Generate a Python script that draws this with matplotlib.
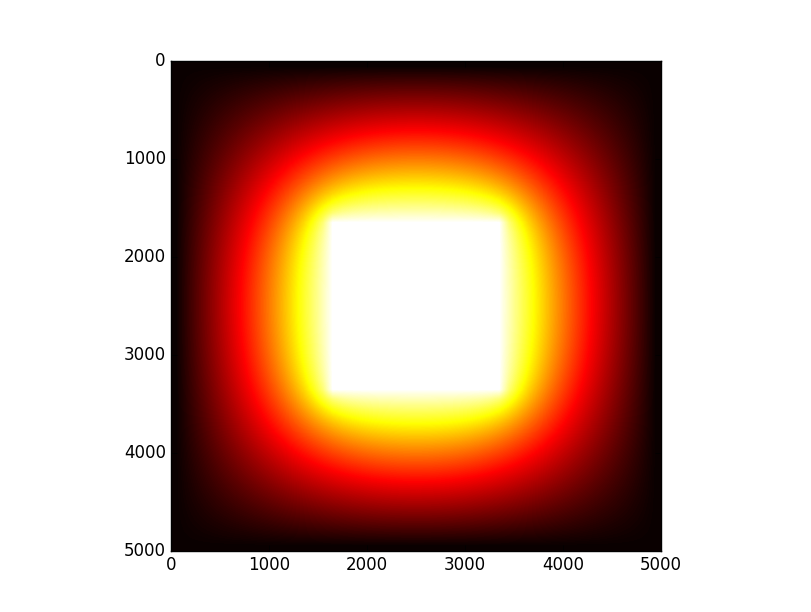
import matplotlib
matplotlib.use('Agg')
import matplotlib.pyplot as plt
import numpy as np

plt.style.use('classic')

# plate: 50 x 50 cells of 100 units each, edges held cold, middle square held hot
n_cells = 50
cell_size = 100
t_edge = 0.0
t_hot = 1.0
hot_lo = 16
hot_hi = 34

T = np.zeros((n_cells, n_cells))
T[hot_lo:hot_hi, hot_lo:hot_hi] = t_hot

# relax to steady state
for it in range(8000):
    T[1:-1, 1:-1] = 0.25 * (T[:-2, 1:-1] + T[2:, 1:-1] + T[1:-1, :-2] + T[1:-1, 2:])
    T[0, :] = t_edge
    T[-1, :] = t_edge
    T[:, 0] = t_edge
    T[:, -1] = t_edge
    T[hot_lo:hot_hi, hot_lo:hot_hi] = t_hot

size = n_cells * cell_size
fig = plt.figure(figsize=(8.12, 6.12), dpi=100)
plt.imshow(T, cmap='hot', vmin=t_edge, vmax=t_hot, extent=[0, size, size, 0],
           interpolation='bilinear')
fig.savefig('out.png', dpi=100)
